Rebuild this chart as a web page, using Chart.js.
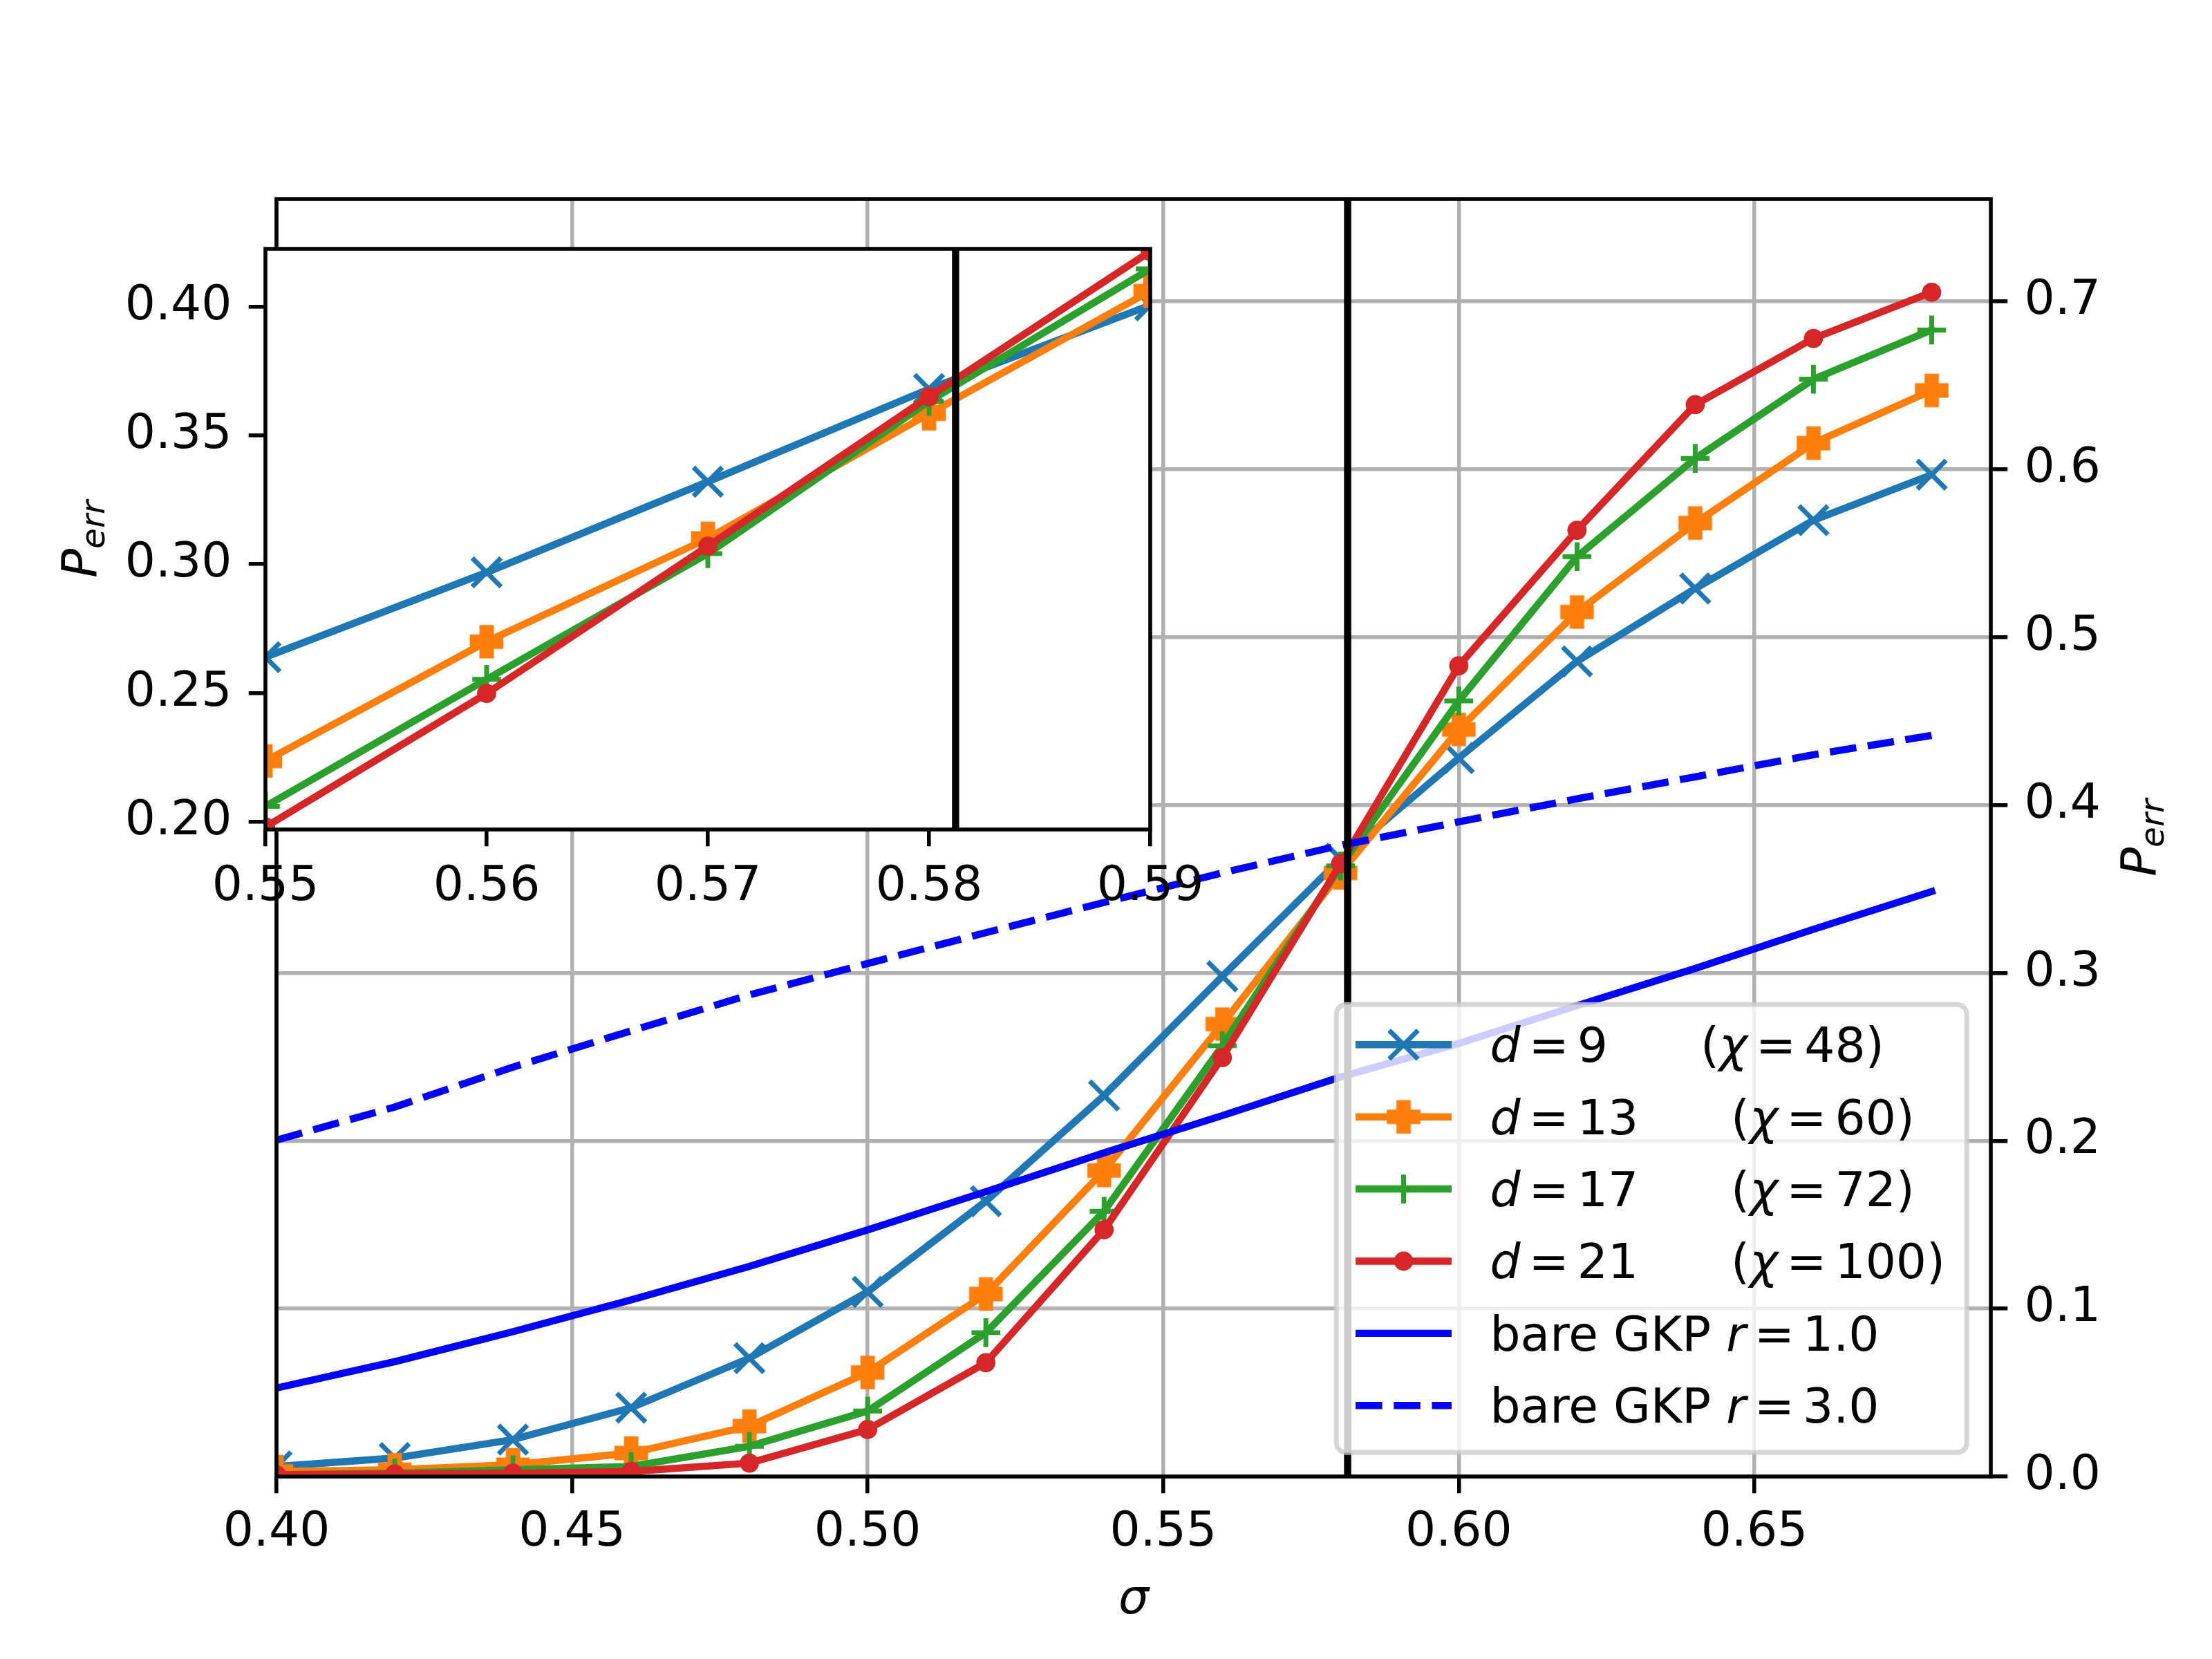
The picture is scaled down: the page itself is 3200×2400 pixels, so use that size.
<!DOCTYPE html>
<html>
<head>
<meta charset="utf-8">
<title>P_err vs sigma</title>
<script src="https://cdn.jsdelivr.net/npm/chart.js@4.4.1/dist/chart.umd.min.js"></script>
<style>
  html, body { margin: 0; padding: 0; background: #ffffff; }
  #wrap { position: relative; width: 3200px; height: 2400px; }
  #wrap canvas { position: absolute; left: 0; top: 0; }
</style>
</head>
<body>
<div id="wrap">
  <canvas id="mainChart" width="3200" height="2400"></canvas>
  <canvas id="insetChart" width="3200" height="2400"></canvas>
</div>
<script>
// ---- data ----
const sigma = [0.40, 0.42, 0.44, 0.46, 0.48, 0.50, 0.52, 0.54, 0.56, 0.58, 0.60, 0.62, 0.64, 0.66, 0.68];
const d9  = [0.006, 0.011, 0.022, 0.041, 0.0705, 0.110, 0.164, 0.227, 0.298, 0.368, 0.428, 0.4856, 0.529, 0.5697, 0.5968];
const d13 = [0.003, 0.004, 0.007, 0.014, 0.030, 0.062, 0.1087, 0.1823, 0.2695, 0.3596, 0.445, 0.515, 0.568, 0.6156, 0.647];
const d17 = [0.001, 0.002, 0.004, 0.006, 0.018, 0.039, 0.0857, 0.158, 0.2566, 0.3637, 0.462, 0.548, 0.6065, 0.6537, 0.683];
const d21 = [0.001, 0.0015, 0.002, 0.003, 0.008, 0.028, 0.0678, 0.147, 0.2496, 0.365, 0.483, 0.5637, 0.6385, 0.678, 0.7055];
const gkpR1 = [0.0527, 0.0684, 0.0863, 0.1052, 0.1252, 0.1469, 0.1697, 0.1928, 0.215, 0.238, 0.258, 0.2805, 0.3027, 0.326, 0.3485];
const gkpR3 = [0.2004, 0.2201, 0.2439, 0.2655, 0.2869, 0.3056, 0.324, 0.342, 0.3596, 0.376, 0.390, 0.4037, 0.4168, 0.430, 0.4415];

// zoomed inset
const sigmaInset = [0.55, 0.56, 0.57, 0.58, 0.59];
const in9  = [0.2639, 0.2968, 0.332, 0.368, 0.4005];
const in13 = [0.2236, 0.2699, 0.310, 0.3584, 0.406];
const in17 = [0.206, 0.2553, 0.3041, 0.3632, 0.4146];
const in21 = [0.198, 0.2498, 0.307, 0.365, 0.4214];

// threshold (vertical black line)
const sigmaCrit = 0.5812;

// axes ranges and ticks
const xRangeMain = [0.40, 0.69];
const yRangeMain = [0.0, 0.761];
const xTicksMain = [0.40, 0.45, 0.50, 0.55, 0.60, 0.65];
const yTicksMain = [0.0, 0.1, 0.2, 0.3, 0.4, 0.5, 0.6, 0.7];
const xRangeInset = [0.55, 0.59];
const yRangeInset = [0.197, 0.4224];
const xTicksInset = [0.55, 0.56, 0.57, 0.58, 0.59];
const yTicksInset = [0.20, 0.25, 0.30, 0.35, 0.40];

// ---- styles ----
const PT = 500 / 72;          // one point in pixels
const LW = 1.5 * PT;
const FONT = '"DejaVu Sans"';
const FS = 10 * PT;
const C0 = "#1f77b4", C1 = "#ff7f0e", C2 = "#2ca02c", C3 = "#d62728", CB = "#0000ff";
const GRID = "#b0b0b0";

// filled plus marker ('P')
function plusFilled(color) {
  const c = document.createElement("canvas");
  c.width = 54; c.height = 54;
  const g = c.getContext("2d");
  const a = 3 * PT, b = 1 * PT;
  g.translate(27, 27);
  g.beginPath();
  g.moveTo(-b, -a); g.lineTo(b, -a); g.lineTo(b, -b); g.lineTo(a, -b);
  g.lineTo(a, b); g.lineTo(b, b); g.lineTo(b, a); g.lineTo(-b, a);
  g.lineTo(-b, b); g.lineTo(-a, b); g.lineTo(-a, -b); g.lineTo(-b, -b);
  g.closePath();
  g.fillStyle = color; g.fill();
  g.lineWidth = PT; g.strokeStyle = color; g.lineJoin = "miter"; g.stroke();
  return c;
}
const plusMark = plusFilled(C1);

const markerRadius = { crossRot: 3 * Math.SQRT2 * PT, cross: 3 * PT, circle: 1.5 * PT };

function pts(xs, ys) {
  return xs.map((x, i) => ({ x: x, y: ys[i] }));
}

function series(data, color, marker, order) {
  const r = marker ? (markerRadius[marker] || 24) : 0;
  return {
    data: data,
    borderColor: color,
    backgroundColor: color,
    borderWidth: LW,
    borderJoinStyle: "round",
    borderCapStyle: "square",
    pointStyle: marker || "circle",
    pointRadius: r,
    pointHoverRadius: r,
    pointBorderWidth: PT,
    pointBorderColor: color,
    pointBackgroundColor: color,
    tension: 0,
    fill: false,
    clip: 0,
    order: order
  };
}

function vline(x, range) {
  return {
    data: [{ x: x, y: range[0] }, { x: x, y: range[1] }],
    borderColor: "#000",
    borderWidth: LW,
    borderCapStyle: "butt",
    pointRadius: 0,
    fill: false,
    clip: 0,
    order: 0
  };
}

function tickOpts(decimals, pad) {
  return {
    callback: v => Number(v).toFixed(decimals),
    font: { family: "DejaVu Sans", size: FS },
    color: "#000",
    padding: pad,
    maxRotation: 0,
    minRotation: 0,
    autoSkip: false
  };
}

function gridOpts(onArea) {
  return {
    display: true,
    drawOnChartArea: onArea,
    color: GRID,
    lineWidth: 0.8 * PT,
    drawTicks: true,
    tickLength: 3.5 * PT,
    tickColor: "#000",
    tickWidth: 0.8 * PT
  };
}

// ---- text helpers ----
function drawRuns(ctx, x, y, runs, size) {
  runs.forEach(r => {
    if (r.sp) { x += r.sp; return; }
    ctx.font = (r.it ? "italic " : "") + size + "px " + FONT;
    ctx.fillText(r.t, x, y);
    x += ctx.measureText(r.t).width;
  });
  return x;
}

function drawPerr(ctx, xBase, yCenter) {
  ctx.save();
  ctx.translate(xBase, yCenter);
  ctx.rotate(-Math.PI / 2);
  ctx.fillStyle = "#000";
  ctx.textAlign = "left";
  ctx.textBaseline = "alphabetic";
  ctx.font = "italic " + FS + "px " + FONT;
  const wP = ctx.measureText("P").width;
  ctx.font = "italic " + (FS * 0.7) + "px " + FONT;
  const wE = ctx.measureText("err").width;
  const x0 = -(wP + wE) / 2;
  ctx.font = "italic " + FS + "px " + FONT;
  ctx.fillText("P", x0, 0);
  ctx.font = "italic " + (FS * 0.7) + "px " + FONT;
  ctx.fillText("err", x0 + wP, 12);
  ctx.restore();
}

function drawMarker(ctx, style, color, x, y) {
  ctx.save();
  ctx.strokeStyle = color;
  ctx.fillStyle = color;
  ctx.lineWidth = PT;
  const r = 3 * PT;
  if (style === "crossRot") {
    ctx.beginPath();
    ctx.moveTo(x - r, y - r); ctx.lineTo(x + r, y + r);
    ctx.moveTo(x - r, y + r); ctx.lineTo(x + r, y - r);
    ctx.stroke();
  } else if (style === "cross") {
    ctx.beginPath();
    ctx.moveTo(x - r, y); ctx.lineTo(x + r, y);
    ctx.moveTo(x, y - r); ctx.lineTo(x, y + r);
    ctx.stroke();
  } else if (style === "circle") {
    ctx.beginPath();
    ctx.arc(x, y, 1.5 * PT, 0, Math.PI * 2);
    ctx.fill();
    ctx.stroke();
  } else if (style && style.width) {
    ctx.drawImage(style, x - style.width / 2, y - style.height / 2);
  }
  ctx.restore();
}

// ---- legend rows ----
const R = 12, GAP = 134;
const legendRows = [
  { color: C0, marker: "crossRot", runs: [{ t: "d", it: 1 }, { sp: R }, { t: "=" }, { sp: R }, { t: "9" }, { sp: GAP }, { t: "(" }, { t: "\u03c7", it: 1 }, { sp: R }, { t: "=" }, { sp: R }, { t: "48)" }] },
  { color: C1, marker: plusMark, runs: [{ t: "d", it: 1 }, { sp: R }, { t: "=" }, { sp: R }, { t: "13" }, { sp: GAP }, { t: "(" }, { t: "\u03c7", it: 1 }, { sp: R }, { t: "=" }, { sp: R }, { t: "60)" }] },
  { color: C2, marker: "cross", runs: [{ t: "d", it: 1 }, { sp: R }, { t: "=" }, { sp: R }, { t: "17" }, { sp: GAP }, { t: "(" }, { t: "\u03c7", it: 1 }, { sp: R }, { t: "=" }, { sp: R }, { t: "72)" }] },
  { color: C3, marker: "circle", runs: [{ t: "d", it: 1 }, { sp: R }, { t: "=" }, { sp: R }, { t: "21" }, { sp: GAP }, { t: "(" }, { t: "\u03c7", it: 1 }, { sp: R }, { t: "=" }, { sp: R }, { t: "100)" }] },
  { color: CB, marker: null, runs: [{ t: "bare GKP " }, { t: "r", it: 1 }, { sp: R }, { t: "=" }, { sp: R }, { t: "1.0" }] },
  { color: CB, marker: null, dash: true, runs: [{ t: "bare GKP " }, { t: "r", it: 1 }, { sp: R }, { t: "=" }, { sp: R }, { t: "3.0" }] }
];

function roundRect(ctx, x, y, w, h, r) {
  ctx.beginPath();
  ctx.moveTo(x + r, y);
  ctx.lineTo(x + w - r, y); ctx.arcTo(x + w, y, x + w, y + r, r);
  ctx.lineTo(x + w, y + h - r); ctx.arcTo(x + w, y + h, x + w - r, y + h, r);
  ctx.lineTo(x + r, y + h); ctx.arcTo(x, y + h, x, y + h - r, r);
  ctx.lineTo(x, y + r); ctx.arcTo(x, y, x + r, y, r);
  ctx.closePath();
}

// ---- plugins ----
const whiteCanvas = {
  id: "whiteCanvas",
  beforeDraw(chart) {
    const ctx = chart.ctx;
    ctx.save();
    ctx.fillStyle = "#ffffff";
    ctx.fillRect(0, 0, chart.width, chart.height);
    ctx.restore();
  }
};

const whiteArea = {
  id: "whiteArea",
  beforeDraw(chart) {
    const a = chart.chartArea, ctx = chart.ctx;
    ctx.save();
    ctx.fillStyle = "#ffffff";
    ctx.fillRect(a.left, a.top, a.right - a.left, a.bottom - a.top);
    ctx.restore();
  }
};

const spines = {
  id: "spines",
  afterDatasetsDraw(chart) {
    const a = chart.chartArea, ctx = chart.ctx;
    ctx.save();
    ctx.strokeStyle = "#000";
    ctx.lineWidth = 0.8 * PT;
    ctx.lineJoin = "miter";
    ctx.strokeRect(a.left, a.top, a.right - a.left, a.bottom - a.top);
    ctx.restore();
  }
};

const mainLabels = {
  id: "mainLabels",
  afterDraw(chart) {
    const a = chart.chartArea, ctx = chart.ctx;
    ctx.save();
    ctx.fillStyle = "#000";
    ctx.textAlign = "center";
    ctx.textBaseline = "alphabetic";
    ctx.font = "italic " + FS + "px " + FONT;
    ctx.fillText("\u03c3", (a.left + a.right) / 2, a.bottom + 198);
    ctx.restore();
    drawPerr(ctx, a.right + 238, (a.top + a.bottom) / 2);
  }
};

const legendBox = {
  id: "legendBox",
  afterDraw(chart) {
    const a = chart.chartArea, ctx = chart.ctx;
    const pad = 0.5 * FS;
    const w = 912, h = 648;
    const x = a.right - pad - w, y = a.bottom - pad - h;
    ctx.save();
    roundRect(ctx, x, y, w, h, 0.2 * FS);
    ctx.fillStyle = "rgba(255,255,255,0.8)";
    ctx.fill();
    ctx.lineWidth = PT;
    ctx.strokeStyle = "rgba(204,204,204,0.8)";
    ctx.stroke();

    const hx0 = x + 0.4 * FS, hx1 = hx0 + 2.0 * FS;
    const tx = hx1 + 0.8 * FS;
    legendRows.forEach((row, i) => {
      const cy = y + 58 + i * 104.4;
      ctx.save();
      ctx.strokeStyle = row.color;
      ctx.lineWidth = LW;
      if (row.dash) {
        ctx.setLineDash([3.7 * LW, 1.6 * LW]);
        ctx.lineCap = "butt";
      } else {
        ctx.lineCap = "square";
      }
      ctx.beginPath();
      ctx.moveTo(hx0 + (row.dash ? 0 : 0.5 * LW), cy);
      ctx.lineTo(hx1 - (row.dash ? 0 : 0.5 * LW), cy);
      ctx.stroke();
      ctx.restore();
      if (row.marker) drawMarker(ctx, row.marker, row.color, (hx0 + hx1) / 2, cy);
      ctx.fillStyle = "#000";
      ctx.textAlign = "left";
      ctx.textBaseline = "alphabetic";
      drawRuns(ctx, tx, cy + 25, row.runs, FS);
    });
    ctx.restore();
  }
};

const insetLabels = {
  id: "insetLabels",
  afterDraw(chart) {
    const a = chart.chartArea;
    drawPerr(chart.ctx, a.left - 245, (a.top + a.bottom) / 2);
  }
};

const common = {
  responsive: false,
  maintainAspectRatio: false,
  devicePixelRatio: 1,
  animation: false,
  events: [],
  plugins: { legend: { display: false }, tooltip: { enabled: false } }
};

// ---- main chart ----
new Chart(document.getElementById("mainChart"), {
  type: "line",
  data: {
    datasets: [
      series(pts(sigma, d9), C0, "crossRot", 6),
      series(pts(sigma, d13), C1, plusMark, 5),
      series(pts(sigma, d17), C2, "cross", 4),
      series(pts(sigma, d21), C3, "circle", 3),
      series(pts(sigma, gkpR1), CB, null, 2),
      Object.assign(series(pts(sigma, gkpR3), CB, null, 1), { borderDash: [3.7 * LW, 1.6 * LW], borderCapStyle: "butt" }),
      vline(sigmaCrit, yRangeMain)
    ]
  },
  options: Object.assign({}, common, {
    layout: { padding: { left: 400, top: 288, right: 0, bottom: 0 } },
    scales: {
      x: {
        type: "linear",
        position: "bottom",
        min: xRangeMain[0],
        max: xRangeMain[1],
        afterBuildTicks: s => { s.ticks = xTicksMain.map(v => ({ value: v })); },
        afterFit: s => { s.height = 264; },
        ticks: tickOpts(2, 16),
        grid: gridOpts(true),
        border: { display: false }
      },
      y: {
        type: "linear",
        position: "right",
        min: yRangeMain[0],
        max: yRangeMain[1],
        afterBuildTicks: s => { s.ticks = yTicksMain.map(v => ({ value: v })); },
        afterFit: s => { s.width = 320; },
        ticks: tickOpts(1, 3.5 * PT),
        grid: gridOpts(true),
        border: { display: false }
      }
    }
  }),
  plugins: [whiteCanvas, spines, mainLabels, legendBox]
});

// ---- inset chart ----
new Chart(document.getElementById("insetChart"), {
  type: "line",
  data: {
    datasets: [
      series(pts(sigmaInset, in9), C0, "crossRot", 4),
      series(pts(sigmaInset, in13), C1, plusMark, 3),
      series(pts(sigmaInset, in17), C2, "cross", 2),
      series(pts(sigmaInset, in21), C3, "circle", 1),
      vline(sigmaCrit, yRangeInset)
    ]
  },
  options: Object.assign({}, common, {
    layout: { padding: { left: 184, top: 360, right: 1536, bottom: 1050 } },
    scales: {
      x: {
        type: "linear",
        position: "bottom",
        min: xRangeInset[0],
        max: xRangeInset[1],
        afterBuildTicks: s => { s.ticks = xTicksInset.map(v => ({ value: v })); },
        afterFit: s => { s.height = 150; },
        ticks: tickOpts(2, 18),
        grid: gridOpts(false),
        border: { display: false }
      },
      y: {
        type: "linear",
        position: "left",
        min: yRangeInset[0],
        max: yRangeInset[1],
        afterBuildTicks: s => { s.ticks = yTicksInset.map(v => ({ value: v })); },
        afterFit: s => { s.width = 200; },
        ticks: tickOpts(2, 3.5 * PT),
        grid: gridOpts(false),
        border: { display: false }
      }
    }
  }),
  plugins: [whiteArea, spines, insetLabels]
});
</script>
</body>
</html>
